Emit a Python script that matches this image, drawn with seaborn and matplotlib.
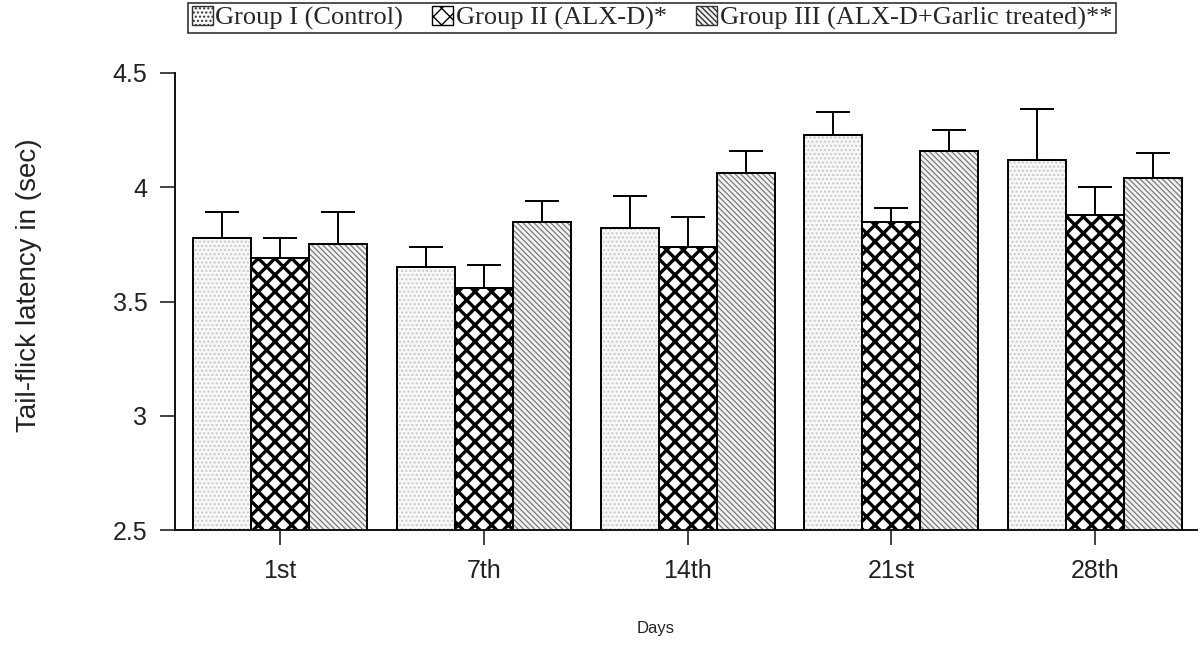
import numpy as np
import pandas as pd
import matplotlib.pyplot as plt
import matplotlib.patches as mpatches
import seaborn as sns

# ---- data ----
days = ['1st', '7th', '14th', '21st', '28th']
groups = ['Group I (Control)', 'Group II (ALX-D)*', 'Group III (ALX-D+Garlic treated)**']

g1_mean = [3.78, 3.65, 3.82, 4.23, 4.12]
g2_mean = [3.69, 3.56, 3.74, 3.85, 3.88]
g3_mean = [3.75, 3.85, 4.06, 4.16, 4.04]

g1_err = [0.11, 0.09, 0.14, 0.10, 0.22]
g2_err = [0.09, 0.10, 0.13, 0.06, 0.12]
g3_err = [0.14, 0.09, 0.10, 0.09, 0.11]

# fill style per group: face, hatch colour, hatch, hatch width
styles = [('#f8f8f8', '#c8c8c8', '....', 1.0),
          ('white', 'black', 'xx', 2.4),
          ('#f2f2f2', '#7a7a7a', '\\\\\\\\\\\\', 0.9)]

df = pd.DataFrame({
    'day': days * 3,
    'group': np.repeat(groups, len(days)),
    'value': g1_mean + g2_mean + g3_mean,
    'err': g1_err + g2_err + g3_err,
})

sns.set_style('ticks')
plt.rcParams['font.family'] = ['Liberation Sans', 'DejaVu Sans']
plt.rcParams['hatch.linewidth'] = 1.0

fig = plt.figure(figsize=(12, 6.45), dpi=100)
ax = fig.add_axes([0.146, 0.178, 0.8515, 0.709])

sns.barplot(data=df, x='day', y='value', hue='group', order=days, hue_order=groups,
            width=0.853, gap=0, errorbar=None, legend=False, ax=ax, linewidth=0,
            palette=['white'] * 3)

# seaborn draws one hue level after another, same order as df
bars = list(ax.patches)
for i, p in enumerate(bars):
    face, hcol, hatch, hlw = styles[i // len(days)]
    p.set_facecolor(face)
    p.set_edgecolor(hcol)
    p.set_hatch(hatch)
    p.set_linewidth(0)
    if hasattr(p, 'set_hatch_linewidth'):
        p.set_hatch_linewidth(hlw)
    ax.add_patch(mpatches.Rectangle(p.get_xy(), p.get_width(), p.get_height(),
                                    fill=False, edgecolor='black', linewidth=1.4, zorder=3))

# upper-only SEM bars
xs = [p.get_x() + p.get_width() / 2 for p in bars]
ys = [p.get_height() for p in bars]
ax.errorbar(xs, ys, yerr=[np.zeros(len(df)), df['err']], fmt='none', ecolor='black',
            elinewidth=1.4, capsize=12, capthick=1.4, zorder=4)

ax.set_ylim(2.5, 4.5)
ax.set_xlim(-0.515, 4.5)
ax.set_yticks([2.5, 3, 3.5, 4, 4.5])
ax.set_yticklabels(['2.5', '3', '3.5', '4', '4.5'])
ax.tick_params(axis='both', labelsize=18, length=11, width=1.2, colors='#222222', pad=9)
ax.tick_params(axis='x', pad=10)
for s in ['left', 'bottom']:
    ax.spines[s].set_linewidth(1.4)
    ax.spines[s].set_color('#111111')
sns.despine(ax=ax)

ax.set_ylabel('Tail-flick latency in (sec)', fontsize=20, color='#222222')
ax.yaxis.set_label_coords(-0.130, 0.536)
ax.set_xlabel('Days', fontsize=12, color='#222222')
ax.xaxis.set_label_coords(0.47, -0.199)

handles = [mpatches.Patch(facecolor=f, edgecolor='#333333' if h != 'black' else 'black', hatch=ht)
           for f, h, ht, _ in styles]
# boxed legend across the top
leg = fig.legend(handles, groups, loc='upper left', bbox_to_anchor=(0.157, 0.995), ncol=3,
                 frameon=True, fancybox=False, edgecolor='black',
                 prop={'family': 'Liberation Serif', 'size': 19},
                 handlelength=0.8, handleheight=0.7, handletextpad=0.1,
                 columnspacing=1.1, borderpad=0.12, borderaxespad=0)
leg.get_frame().set_linewidth(1.2)

fig.savefig('out.png', dpi=100, facecolor='white')
